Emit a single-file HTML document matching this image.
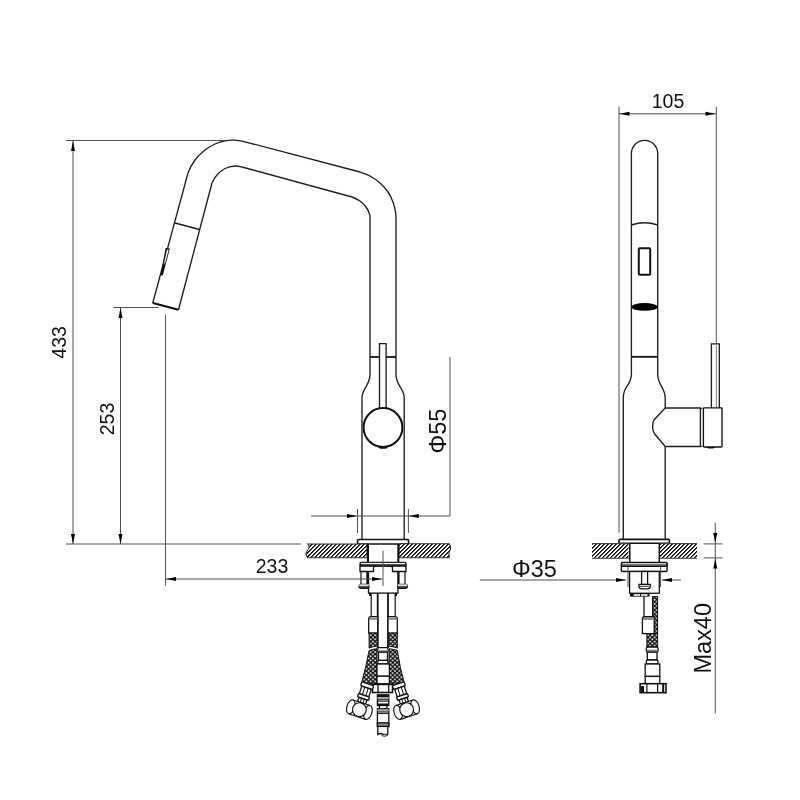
<!DOCTYPE html>
<html><head><meta charset="utf-8"><style>
html,body{margin:0;padding:0;background:#fff;}
svg{display:block;will-change:transform;}
text{font-family:"Liberation Sans",sans-serif;fill:#111;}
</style></head><body>
<svg width="800" height="800" viewBox="0 0 800 800">
<defs>
<pattern id="hatch" width="4" height="4" patternUnits="userSpaceOnUse">
<rect width="4" height="4" fill="#fff"/><rect x="3" y="0" width="1" height="1" fill="#000"/><rect x="0" y="0" width="1" height="1" fill="#444"/><rect x="2" y="1" width="1" height="1" fill="#000"/><rect x="3" y="1" width="1" height="1" fill="#444"/><rect x="1" y="2" width="1" height="1" fill="#000"/><rect x="2" y="2" width="1" height="1" fill="#444"/><rect x="0" y="3" width="1" height="1" fill="#000"/><rect x="1" y="3" width="1" height="1" fill="#444"/>
</pattern>
<pattern id="braid" width="4.4" height="4.2" patternUnits="userSpaceOnUse">
<rect width="4.4" height="4.2" fill="#111"/><rect x="0.3" y="0.25" width="1.7" height="1.6" fill="#fff"/><rect x="2.5" y="2.35" width="1.7" height="1.6" fill="#fff"/>
</pattern>
</defs>
<path d="M188.00,173.00 C190.18,167.08 192.17,163.83 195.00,160.00 C197.83,156.17 201.67,152.67 205.00,150.00 C208.33,147.33 211.67,145.53 215.00,144.00 C218.33,142.47 221.67,141.43 225.00,140.80 C228.33,140.17 231.67,140.03 235.00,140.20 C238.33,140.37 241.42,141.03 245.00,141.80" stroke="#1e1e1e" stroke-width="1.35" fill="none"/>
<line x1="152.75" y1="303.00" x2="188.00" y2="173.00" stroke="#1e1e1e" stroke-width="1.35" fill="none"/>
<line x1="245.00" y1="141.80" x2="360.00" y2="172.00" stroke="#1e1e1e" stroke-width="1.35" fill="none"/>
<path d="M360.00,172.00 C363.58,173.17 366.67,174.17 370.00,176.00 C373.33,177.83 377.00,180.33 380.00,183.00 C383.00,185.67 385.83,188.83 388.00,192.00 C390.17,195.17 391.75,198.67 393.00,202.00 C394.25,205.33 395.00,209.00 395.50,212.00 C396.00,215.00 395.92,217.00 396.00,220.00" stroke="#1e1e1e" stroke-width="1.35" fill="none"/>
<path d="M396,220 L396,374.6 C396,386 404.2,388 404.2,398 L404.2,539.5" stroke="#1e1e1e" stroke-width="1.35" fill="none"/>
<line x1="178.50" y1="309.75" x2="212.00" y2="183.00" stroke="#1e1e1e" stroke-width="1.35" fill="none"/>
<path d="M212.00,183.00 C213.23,180.17 214.83,177.42 217.00,175.00 C219.17,172.58 222.00,170.00 225.00,168.50 C228.00,167.00 232.17,166.25 235.00,166.00 C237.83,165.75 239.00,166.33 242.00,167.00" stroke="#1e1e1e" stroke-width="1.35" fill="none"/>
<line x1="242.00" y1="167.00" x2="352.00" y2="197.00" stroke="#1e1e1e" stroke-width="1.35" fill="none"/>
<path d="M352.00,197.00 C355.17,198.17 357.67,199.33 360.00,201.00 C362.33,202.67 364.42,204.83 366.00,207.00 C367.58,209.17 368.83,212.00 369.50,214.00 C370.17,216.00 369.92,216.50 370.00,219.00" stroke="#1e1e1e" stroke-width="1.35" fill="none"/>
<path d="M370,219 L370,374.6 C370,386 362,388 362,398 L362,539.5" stroke="#1e1e1e" stroke-width="1.35" fill="none"/>
<line x1="175.00" y1="223.00" x2="199.40" y2="229.60" stroke="#1a1a1a" stroke-width="1.55"/>
<line x1="152.75" y1="303.00" x2="178.50" y2="309.75" stroke="#111" stroke-width="2.2"/>
<path d="M165.6,248 L169.8,248.4 L169.6,249.6 L163.8,271.5 L162.8,275.5 L160.6,275.3 Z" fill="#111"/>
<path d="M167,249.6 L168.6,249.9 L164.6,265 L164.3,262 Z" fill="#fff"/>
<line x1="370.00" y1="357.00" x2="379.50" y2="357.00" stroke="#111" stroke-width="1.8"/>
<line x1="386.10" y1="357.00" x2="396.00" y2="357.00" stroke="#111" stroke-width="1.8"/>
<path d="M379.5,408 L379.5,343.6 L386.1,343.6 L386.1,408" stroke="#1e1e1e" stroke-width="1.35" fill="none"/>
<ellipse cx="383" cy="447.2" rx="4.5" ry="1.5" fill="#111"/>
<circle cx="383" cy="427.5" r="19.4" stroke="#111" stroke-width="2" fill="#fff"/>
<rect x="357.5" y="539.5" width="51" height="4.5" rx="1" stroke="#111" stroke-width="1.6" fill="#fff"/>
<path d="M307.8,544 L367,544 L367,557.8 L307.6,557.8 C305.5,555 306,552 308,549.5 C309.6,547.5 309.5,545.5 307.8,544 Z" fill="url(#hatch)" stroke="#333" stroke-width="1.1"/>
<path d="M399,543.8 L449.2,543.8 C451.2,546.5 451,549.5 449,552 L449.2,557.8 L399,557.8 Z" fill="url(#hatch)" stroke="#333" stroke-width="1.1"/>
<path d="M631.4,374 L631.4,153.5 A13.15,13.15 0 0 1 657.7,153.5 L657.7,374" stroke="#1e1e1e" stroke-width="1.35" fill="none"/>
<path d="M631.4,225 Q644.5,220.5 657.7,225" stroke="#1e1e1e" stroke-width="1.35" fill="none"/>
<rect x="638.8" y="248.25" width="11.4" height="26.5" rx="1" stroke="#111" stroke-width="2" fill="none"/>
<ellipse cx="644.5" cy="306.9" rx="13.1" ry="3.9" fill="#000"/>
<line x1="631.40" y1="356.80" x2="657.70" y2="356.80" stroke="#111" stroke-width="1.8"/>
<path d="M631.4,374 C631.4,386 623.3,385 623.3,398 L623.3,539.4" stroke="#1e1e1e" stroke-width="1.35" fill="none"/>
<path d="M657.7,374 C657.7,386 665.2,387 665.2,398 L665.2,408 M665.2,446.5 L665.2,539.4" stroke="#1e1e1e" stroke-width="1.35" fill="none"/>
<path d="M665.2,408 L700.4,408 L700.4,446.5 L665.2,446.5 M665.2,408 L654,420 C652,424 652,430 654.7,434 L665.2,446.5" stroke="#1e1e1e" stroke-width="1.35" fill="none"/>
<path d="M700.4,409 L702.6,408.2 M700.4,445.8 L702.6,446.6" stroke="#222" stroke-width="1" fill="none"/>
<ellipse cx="710.8" cy="447.2" rx="4.2" ry="1.4" fill="#111"/>
<rect x="703.4" y="407.8" width="18.6" height="39.2" rx="0.8" stroke="#111" stroke-width="1.35" fill="#fff"/>
<path d="M711.4,407.8 L711.4,343.8 L719.3,343.8 L719.3,407.8" stroke="#1e1e1e" stroke-width="1.35" fill="none"/>
<line x1="716.30" y1="345.50" x2="716.30" y2="407.00" stroke="#777" stroke-width="1"/>
<rect x="619" y="539.4" width="50.4" height="3.8" rx="1" stroke="#111" stroke-width="1.6" fill="#fff"/>
<path d="M592,543.6 L628.5,543.6 L628.5,558.2 L592,558.2 Z" fill="url(#hatch)"/>
<path d="M660,543.6 L697.1,543.6 L697.1,558.2 L660,558.2 Z" fill="url(#hatch)"/>
<line x1="592.00" y1="543.60" x2="629.00" y2="543.60" stroke="#444" stroke-width="1.1"/>
<line x1="592.00" y1="558.20" x2="629.00" y2="558.20" stroke="#444" stroke-width="1.1"/>
<line x1="660.00" y1="543.60" x2="697.10" y2="543.60" stroke="#444" stroke-width="1.1"/>
<line x1="660.00" y1="558.20" x2="697.10" y2="558.20" stroke="#444" stroke-width="1.1"/>
<line x1="368.00" y1="544.00" x2="368.00" y2="562.50" stroke="#111" stroke-width="2"/>
<line x1="398.30" y1="544.00" x2="398.30" y2="562.50" stroke="#111" stroke-width="2"/>
<rect x="368.5" y="566" width="29.5" height="27.1" stroke="#111" stroke-width="1.3" fill="#fff"/>
<line x1="361.00" y1="571.50" x2="361.00" y2="584.50" stroke="#111" stroke-width="1.2"/>
<line x1="367.30" y1="571.50" x2="367.30" y2="584.50" stroke="#111" stroke-width="2"/>
<line x1="398.60" y1="571.50" x2="398.60" y2="584.50" stroke="#111" stroke-width="2"/>
<line x1="405.00" y1="571.50" x2="405.00" y2="584.50" stroke="#111" stroke-width="1.2"/>
<rect x="359.1" y="584.5" width="9.8" height="3.8" rx="1.5" stroke="#111" stroke-width="1.3" fill="#444"/>
<rect x="397.6" y="584.5" width="9.8" height="3.8" rx="1.5" stroke="#111" stroke-width="1.3" fill="#444"/>
<rect x="359.1" y="584.3" width="9.8" height="1.8" fill="#ddd"/>
<rect x="397.6" y="584.3" width="9.8" height="1.8" fill="#ddd"/>
<rect x="360" y="562.5" width="46" height="3.6" rx="1.2" stroke="#111" stroke-width="1.3" fill="#444"/>
<rect x="361" y="562.9" width="44" height="1.2" fill="#eee"/>
<path d="M360,566 L360,571.5 L373.5,571.5 L373.5,567.5 L375,566 Z" stroke="#111" stroke-width="1.3" fill="#fff"/>
<path d="M406,566 L406,571.5 L392.5,571.5 L392.5,567.5 L391,566 Z" stroke="#111" stroke-width="1.3" fill="#fff"/>
<line x1="383.00" y1="551.00" x2="383.00" y2="586.00" stroke="#555" stroke-width="1"/>
<line x1="370.00" y1="593.00" x2="370.00" y2="596.00" stroke="#111" stroke-width="2"/>
<line x1="396.00" y1="593.00" x2="396.00" y2="596.00" stroke="#111" stroke-width="2"/>
<line x1="371.20" y1="593.00" x2="371.20" y2="617.00" stroke="#111" stroke-width="1.2"/>
<line x1="377.70" y1="593.00" x2="377.70" y2="648.00" stroke="#111" stroke-width="1.8"/>
<line x1="388.00" y1="593.00" x2="388.00" y2="648.00" stroke="#111" stroke-width="1.8"/>
<line x1="395.20" y1="593.00" x2="395.20" y2="617.00" stroke="#111" stroke-width="1.2"/>
<path d="M368.7,633.1 L368.7,619 Q368.7,616.6 371,616.6 L377.7,616.6 L377.7,633.1 Z" stroke="#111" stroke-width="1.3" fill="#fff"/>
<path d="M388,633.1 L388,616.6 L395,616.6 Q397.3,616.6 397.3,619 L397.3,633.1 Z" stroke="#111" stroke-width="1.3" fill="#fff"/>
<rect x="369.4" y="617.6" width="8" height="2.2" fill="#888"/>
<rect x="388.6" y="617.6" width="8" height="2.2" fill="#888"/>
<path d="M369.1,633.1 L377.7,633.1 L377.7,646 Q373,646.5 369.1,648 Z" fill="url(#braid)" stroke="#111" stroke-width="1"/>
<path d="M388.3,633.1 L397.3,633.1 L397.3,648 Q393,646.5 388.3,646 Z" fill="url(#braid)" stroke="#111" stroke-width="1"/>
<path d="M369.1,650.5 Q373,649 377,648.8 L377,684 L361.2,684 Q366,668 369.1,650.5 Z" fill="url(#braid)" stroke="#111" stroke-width="1"/>
<path d="M397.3,650.5 Q393,649 389,648.8 L389,684 L404.5,684 Q400,668 397.3,650.5 Z" fill="url(#braid)" stroke="#111" stroke-width="1"/>
<rect x="377.7" y="647.7" width="10.3" height="4.5" rx="1.5" stroke="#111" stroke-width="1.2" fill="#fff"/>
<rect x="378.3" y="650.2" width="9.1" height="1.6" fill="#888"/>
<rect x="378.5" y="652.2" width="9" height="8.2" stroke="#111" stroke-width="1.3" fill="#fff"/>
<rect x="377.7" y="660.4" width="10.3" height="3.5" rx="1.5" stroke="#111" stroke-width="1.3" fill="#fff"/>
<rect x="377" y="664" width="12.4" height="12.2" stroke="#111" stroke-width="1.3" fill="#fff"/>
<rect x="377" y="676.2" width="12.4" height="7.6" stroke="#111" stroke-width="1.3" fill="#fff"/>
<rect x="372.5" y="684.4" width="20" height="8.1" stroke="#111" stroke-width="1.6" fill="#fff"/>
<line x1="378.00" y1="684.40" x2="378.00" y2="692.50" stroke="#111" stroke-width="1.3"/>
<line x1="388.70" y1="684.40" x2="388.70" y2="692.50" stroke="#111" stroke-width="1.3"/>
<rect x="377.4" y="694.8" width="11.4" height="10.7" stroke="#111" stroke-width="1.3" fill="#fff"/>
<rect x="377.4" y="694.8" width="11.4" height="2.2" fill="#111"/>
<rect x="377.4" y="697.2" width="11.4" height="2.2" fill="#999"/>
<line x1="377.40" y1="699.80" x2="388.80" y2="699.80" stroke="#111" stroke-width="1"/>
<line x1="377.40" y1="701.20" x2="388.80" y2="701.20" stroke="#111" stroke-width="1"/>
<rect x="377.4" y="703.5" width="11.4" height="2" fill="#111"/>
<rect x="379.4" y="705.5" width="7.5" height="3.5" stroke="#111" stroke-width="1.3" fill="#fff"/>
<rect x="377.4" y="708.8" width="11.4" height="17.6" stroke="#111" stroke-width="1.3" fill="#fff"/>
<rect x="377.4" y="709.4" width="11.4" height="2.2" fill="#999"/>
<line x1="377.40" y1="712.00" x2="388.80" y2="712.00" stroke="#111" stroke-width="1"/>
<line x1="377.40" y1="713.60" x2="388.80" y2="713.60" stroke="#111" stroke-width="1"/>
<rect x="377.4" y="722.8" width="11.4" height="3.6" stroke="#111" stroke-width="1.3" fill="#888"/>
<path d="M377.8,726.4 L377.8,734.5 Q380.5,732.5 383,734.5 Q385.5,736.5 387.8,734 L387.8,726.4" stroke="#111" stroke-width="1.3" fill="none"/>
<ellipse cx="384.5" cy="735.2" rx="2.5" ry="1" stroke="#111" stroke-width="1" fill="#fff"/>
<g transform="translate(367.20 685.60) rotate(18.0) scale(1 1)"><rect x="-6.2" y="-2" width="12.4" height="4.2" rx="1" stroke="#111" stroke-width="1.3" fill="#fff"/><rect x="-5" y="2.2" width="10" height="8" stroke="#111" stroke-width="1.3" fill="#fff"/><line x1="-1.8" y1="2.2" x2="-1.8" y2="10.2" stroke="#111" stroke-width="1"/><line x1="1.8" y1="2.2" x2="1.8" y2="10.2" stroke="#111" stroke-width="1"/><rect x="-5.8" y="10.2" width="11.6" height="3.6" rx="1" stroke="#111" stroke-width="1.3" fill="#fff"/><rect x="-4.2" y="13.8" width="8.4" height="4.5" stroke="#111" stroke-width="1.3" fill="#fff"/><line x1="-1.5" y1="13.8" x2="-1.5" y2="18.3" stroke="#111" stroke-width="1"/><line x1="1.5" y1="13.8" x2="1.5" y2="18.3" stroke="#111" stroke-width="1"/><path d="M-9,18 L9,18 L9,32.6 L-9,32.6 Z" stroke="none" fill="#fff"/><ellipse cx="-9" cy="25.3" rx="3.9" ry="7.3" stroke="#111" stroke-width="1.15" fill="#fff"/><ellipse cx="9" cy="25.3" rx="3.9" ry="7.3" stroke="#111" stroke-width="1.15" fill="#fff"/><line x1="-9" y1="18" x2="9" y2="18" stroke="#111" stroke-width="1.1"/><line x1="-9" y1="32.6" x2="9" y2="32.6" stroke="#111" stroke-width="1.1"/><circle cx="0" cy="25.3" r="6.9" stroke="#111" stroke-width="1.15" fill="#fff"/></g>
<g transform="translate(398.80 685.60) rotate(-18.0) scale(1 1)"><rect x="-6.2" y="-2" width="12.4" height="4.2" rx="1" stroke="#111" stroke-width="1.3" fill="#fff"/><rect x="-5" y="2.2" width="10" height="8" stroke="#111" stroke-width="1.3" fill="#fff"/><line x1="-1.8" y1="2.2" x2="-1.8" y2="10.2" stroke="#111" stroke-width="1"/><line x1="1.8" y1="2.2" x2="1.8" y2="10.2" stroke="#111" stroke-width="1"/><rect x="-5.8" y="10.2" width="11.6" height="3.6" rx="1" stroke="#111" stroke-width="1.3" fill="#fff"/><rect x="-4.2" y="13.8" width="8.4" height="4.5" stroke="#111" stroke-width="1.3" fill="#fff"/><line x1="-1.5" y1="13.8" x2="-1.5" y2="18.3" stroke="#111" stroke-width="1"/><line x1="1.5" y1="13.8" x2="1.5" y2="18.3" stroke="#111" stroke-width="1"/><path d="M-9,18 L9,18 L9,32.6 L-9,32.6 Z" stroke="none" fill="#fff"/><ellipse cx="-9" cy="25.3" rx="3.9" ry="7.3" stroke="#111" stroke-width="1.15" fill="#fff"/><ellipse cx="9" cy="25.3" rx="3.9" ry="7.3" stroke="#111" stroke-width="1.15" fill="#fff"/><line x1="-9" y1="18" x2="9" y2="18" stroke="#111" stroke-width="1.1"/><line x1="-9" y1="32.6" x2="9" y2="32.6" stroke="#111" stroke-width="1.1"/><circle cx="0" cy="25.3" r="6.9" stroke="#111" stroke-width="1.15" fill="#fff"/></g>
<line x1="629.80" y1="543.00" x2="629.80" y2="562.50" stroke="#111" stroke-width="1.5"/>
<line x1="659.30" y1="543.00" x2="659.30" y2="562.50" stroke="#111" stroke-width="1.5"/>
<rect x="621.4" y="562.5" width="45.7" height="9" rx="1.2" stroke="#111" stroke-width="1.4" fill="#fff"/>
<rect x="621.4" y="562.5" width="45.7" height="4" rx="1.2" stroke="#111" stroke-width="1.2" fill="#555"/>
<rect x="622.5" y="563" width="43.5" height="1.3" fill="#ccc"/>
<rect x="629.6" y="571.5" width="29.7" height="21.75" stroke="#111" stroke-width="1.3" fill="#fff"/>
<rect x="641.6" y="571.5" width="6" height="13" stroke="#111" stroke-width="1.3" fill="#fff"/>
<path d="M639,584.3 L650.3,584.3 L650.3,586.5 Q650.3,588.8 647,588.8 L642.3,588.8 Q639,588.8 639,586.5 Z" stroke="#111" stroke-width="1.3" fill="#fff"/>
<line x1="640.00" y1="586.30" x2="649.30" y2="586.30" stroke="#333" stroke-width="1"/>
<rect x="630" y="593.25" width="19.5" height="3.4" fill="#111"/>
<rect x="633.8" y="594.2" width="6.2" height="1.6" fill="#fff"/>
<rect x="641" y="594.2" width="6.6" height="1.6" fill="#fff"/>
<line x1="644.00" y1="596.60" x2="644.00" y2="617.00" stroke="#111" stroke-width="1.3"/>
<rect x="652.5" y="596.6" width="5.1" height="37" fill="url(#braid)" stroke="#111" stroke-width="1"/>
<path d="M642.4,633.6 L642.4,619 Q642.4,616.75 644.6,616.75 L654.2,616.75 L654.2,633.6 Z" stroke="#111" stroke-width="1.3" fill="#fff"/>
<rect x="643" y="617.6" width="10.6" height="2.3" fill="#888"/>
<rect x="646.9" y="633.6" width="10.7" height="13.5" fill="url(#braid)" stroke="#111" stroke-width="1"/>
<rect x="646.3" y="647" width="11.8" height="5.2" rx="1.5" stroke="#111" stroke-width="1.3" fill="#fff"/>
<rect x="646.8" y="649.6" width="10.8" height="2" fill="#888"/>
<rect x="647.3" y="652.2" width="9.7" height="7.8" stroke="#111" stroke-width="1.3" fill="#fff"/>
<rect x="646.3" y="660" width="11.7" height="4" rx="1.5" stroke="#111" stroke-width="1.3" fill="#fff"/>
<rect x="645.2" y="664" width="14.6" height="12.4" stroke="#111" stroke-width="1.3" fill="#fff"/>
<rect x="645.2" y="676.4" width="14.6" height="7.3" stroke="#111" stroke-width="1.3" fill="#fff"/>
<rect x="640.1" y="683.7" width="25.9" height="9" stroke="#111" stroke-width="1.6" fill="#fff"/>
<line x1="646.90" y1="683.70" x2="646.90" y2="692.70" stroke="#111" stroke-width="1.2"/>
<line x1="657.60" y1="683.70" x2="657.60" y2="692.70" stroke="#111" stroke-width="1.2"/>
<line x1="663.20" y1="683.70" x2="663.20" y2="692.70" stroke="#111" stroke-width="2"/>
<rect x="641" y="686" width="3" height="6" fill="#111"/>
<line x1="66.00" y1="140.50" x2="226.00" y2="140.50" stroke="#4f4f4f" stroke-width="1" fill="none"/>
<line x1="66.00" y1="544.00" x2="301.00" y2="544.00" stroke="#4f4f4f" stroke-width="1" fill="none"/>
<line x1="73.00" y1="141.00" x2="73.00" y2="544.00" stroke="#4f4f4f" stroke-width="1" fill="none"/>
<polygon points="73.00,141.00 71.00,151.00 75.00,151.00" fill="#000"/>
<polygon points="73.00,544.00 71.00,534.00 75.00,534.00" fill="#000"/>
<text x="59.00" y="342.40" font-size="19.5" text-anchor="middle" dominant-baseline="central" transform="rotate(-90 59.00 342.40)">433</text>
<line x1="113.50" y1="307.50" x2="158.50" y2="307.50" stroke="#4f4f4f" stroke-width="1" fill="none"/>
<line x1="120.50" y1="308.00" x2="120.50" y2="544.00" stroke="#4f4f4f" stroke-width="1" fill="none"/>
<polygon points="120.50,308.00 118.50,318.00 122.50,318.00" fill="#000"/>
<polygon points="120.50,544.00 118.50,534.00 122.50,534.00" fill="#000"/>
<text x="107.00" y="419.00" font-size="19.5" text-anchor="middle" dominant-baseline="central" transform="rotate(-90 107.00 419.00)">253</text>
<line x1="165.50" y1="314.50" x2="165.50" y2="585.60" stroke="#4f4f4f" stroke-width="1" fill="none"/>
<line x1="166.00" y1="579.00" x2="382.00" y2="579.00" stroke="#4f4f4f" stroke-width="1" fill="none"/>
<polygon points="166.00,579.00 176.00,577.00 176.00,581.00" fill="#000"/>
<polygon points="382.00,579.00 372.00,577.00 372.00,581.00" fill="#000"/>
<text x="272.00" y="566.20" font-size="19.5" text-anchor="middle" dominant-baseline="central">233</text>
<line x1="311.00" y1="516.00" x2="450.00" y2="516.00" stroke="#4f4f4f" stroke-width="1" fill="none"/>
<line x1="450.00" y1="357.00" x2="450.00" y2="516.00" stroke="#4f4f4f" stroke-width="1" fill="none"/>
<line x1="357.50" y1="509.00" x2="357.50" y2="533.00" stroke="#4f4f4f" stroke-width="1" fill="none"/>
<line x1="408.40" y1="509.00" x2="408.40" y2="533.00" stroke="#4f4f4f" stroke-width="1" fill="none"/>
<polygon points="357.00,516.00 347.00,514.00 347.00,518.00" fill="#000"/>
<polygon points="408.80,516.00 418.80,514.00 418.80,518.00" fill="#000"/>
<text x="438.00" y="431.00" font-size="23.5" text-anchor="middle" dominant-baseline="central" transform="rotate(-90 438.00 431.00)">&#934;55</text>
<line x1="619.00" y1="106.80" x2="619.00" y2="532.75" stroke="#4f4f4f" stroke-width="1" fill="none"/>
<line x1="716.30" y1="106.80" x2="716.30" y2="343.80" stroke="#4f4f4f" stroke-width="1" fill="none"/>
<line x1="619.00" y1="113.80" x2="716.00" y2="113.80" stroke="#4f4f4f" stroke-width="1" fill="none"/>
<polygon points="619.50,113.80 629.50,111.80 629.50,115.80" fill="#000"/>
<polygon points="715.50,113.80 705.50,111.80 705.50,115.80" fill="#000"/>
<text x="668.00" y="101.00" font-size="19.5" text-anchor="middle" dominant-baseline="central">105</text>
<line x1="479.80" y1="580.00" x2="626.00" y2="580.00" stroke="#4f4f4f" stroke-width="1" fill="none"/>
<line x1="662.00" y1="580.00" x2="681.00" y2="580.00" stroke="#4f4f4f" stroke-width="1" fill="none"/>
<polygon points="626.00,580.00 616.00,578.00 616.00,582.00" fill="#000"/>
<polygon points="662.00,580.00 672.00,578.00 672.00,582.00" fill="#000"/>
<line x1="628.00" y1="567.00" x2="628.00" y2="587.00" stroke="#4f4f4f" stroke-width="1" fill="none"/>
<line x1="660.60" y1="567.00" x2="660.60" y2="587.00" stroke="#4f4f4f" stroke-width="1" fill="none"/>
<text x="534.50" y="569.40" font-size="23.5" text-anchor="middle" dominant-baseline="central">&#934;35</text>
<line x1="715.25" y1="522.90" x2="715.25" y2="713.40" stroke="#4f4f4f" stroke-width="1" fill="none"/>
<line x1="703.60" y1="543.90" x2="722.40" y2="543.90" stroke="#4f4f4f" stroke-width="1" fill="none"/>
<line x1="703.60" y1="557.90" x2="722.40" y2="557.90" stroke="#4f4f4f" stroke-width="1" fill="none"/>
<polygon points="715.25,543.00 713.25,533.00 717.25,533.00" fill="#000"/>
<polygon points="715.25,558.50 713.25,568.50 717.25,568.50" fill="#000"/>
<text x="703.30" y="638.30" font-size="23.5" text-anchor="middle" dominant-baseline="central" transform="rotate(-90 703.30 638.30)">Max40</text>
</svg>
</body></html>
